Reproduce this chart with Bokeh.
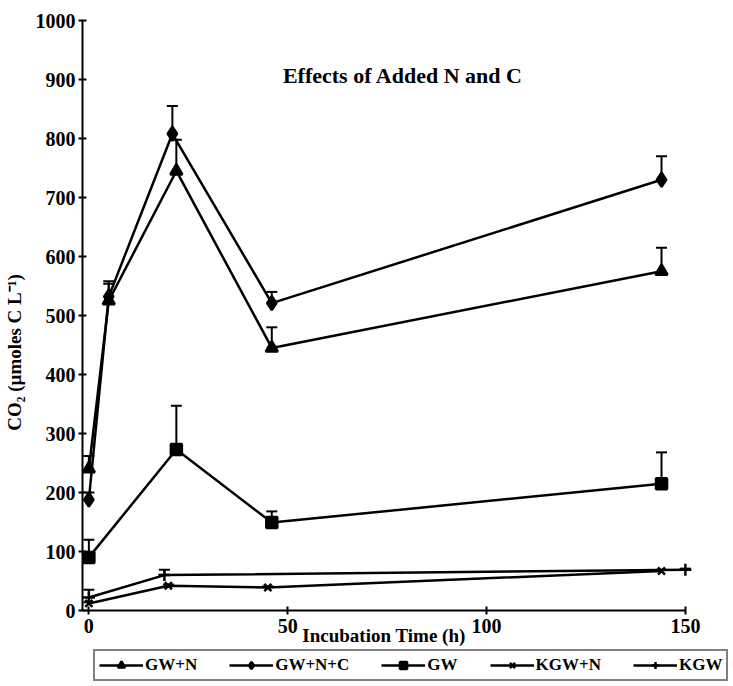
from bokeh.plotting import figure
from bokeh.models import Range1d, Legend, LegendItem, Whisker, TeeHead, ColumnDataSource, Label
from bokeh.embed import file_html
from bokeh.resources import INLINE

# ---- data ----
series_names = ["GW+N", "GW+N+C", "GW", "KGW+N", "KGW"]

gwn_time = [0, 5, 22, 46, 144]
gwn_co2 = [240, 525, 745, 445, 575]
gwn_upper = [262, 554, 798, 480, 615]

gwnc_time = [0, 5, 21, 46, 144]
gwnc_co2 = [188, 532, 808, 521, 730]
gwnc_upper = [200, 558, 855, 540, 770]

gw_time = [0, 22, 46, 144]
gw_co2 = [90, 273, 149, 215]
gw_upper = [120, 347, 168, 268]

kgwn_time = [0, 20, 45, 144]
kgwn_co2 = [12, 42, 39, 67]
kgwn_upper = [14, 44, 41, 69]

kgw_time = [0, 19, 150]
kgw_co2 = [22, 60, 69]
kgw_upper = [35, 69, 71]

x_ticks = [0, 50, 100, 150]
y_ticks = list(range(0, 1001, 100))

title_text = "Effects of Added N and C"
x_label = "Incubation Time (h)"
y_label = "CO\u2082 (\u00b5moles C L\u207b\u00b9)"

FONT = "Liberation Serif"

# frame reaches the bottom of the window so the axis texts and legend below y=0 stay visible
p = figure(frame_width=651, frame_height=668,
           x_range=Range1d(-1.6, 162.1), y_range=Range1d(-128.8, 1003.4),
           output_backend="svg", toolbar_location=None,
           min_border_left=82, min_border_top=18, min_border_right=0, min_border_bottom=0)
p.outline_line_color = None
p.xgrid.visible = False
p.ygrid.visible = False
p.background_fill_color = "white"

for ax in (p.xaxis[0], p.yaxis[0]):
    ax.axis_line_width = 2
    ax.axis_line_color = "black"
    ax.major_tick_line_width = 2
    ax.major_tick_in = 4
    ax.major_tick_out = 4
    ax.minor_tick_line_color = None
    ax.major_label_text_font = FONT
    ax.major_label_text_font_style = "bold"
    ax.major_label_text_font_size = "20px"
    ax.major_label_text_color = "black"
    ax.axis_label_text_font = FONT
    ax.axis_label_text_font_style = "bold"
    ax.axis_label_text_font_size = "19px"
    ax.axis_label_text_color = "black"

p.xaxis.fixed_location = 0
p.xaxis.bounds = (-1.6, 150)
p.yaxis.bounds = (0, 1000)
p.xaxis.ticker = x_ticks
p.yaxis.ticker = y_ticks
p.xaxis.axis_label = x_label
p.yaxis.axis_label = y_label
p.xaxis.major_label_standoff = 4
p.xaxis.axis_label_standoff = -11
p.yaxis.major_label_standoff = 3
p.yaxis.axis_label_standoff = 8

series = [
    (gwn_time, gwn_co2, gwn_upper, "triangle", 12),
    (gwnc_time, gwnc_co2, gwnc_upper, "diamond", 14),
    (gw_time, gw_co2, gw_upper, "square", 11),
    (kgwn_time, kgwn_co2, kgwn_upper, "x", 10),
    (kgw_time, kgw_co2, kgw_upper, "cross", 12),
]

items = []
for name, (t, v, u, marker, size) in zip(series_names, series):
    src = ColumnDataSource(dict(t=t, v=v, u=u))
    w = Whisker(source=src, base="t", lower="v", upper="u", dimension="height",
                line_color="black", line_width=2,
                upper_head=TeeHead(size=11, line_width=2, line_color="black"),
                lower_head=None)
    p.add_layout(w)
    lr = p.line("t", "v", source=src, line_color="black", line_width=2.5)
    sr = p.scatter("t", "v", source=src, marker=marker, size=size,
                   fill_color="black", line_color="black", line_width=2.5)
    items.append(LegendItem(label=name, renderers=[lr, sr]))

title = Label(x=79, y=907, text=title_text, text_align="center", text_baseline="middle",
              text_font=FONT, text_font_style="bold", text_font_size="22px", text_color="black")
p.add_layout(title)

legend = Legend(items=items, orientation="horizontal", location=(11, 5),
                label_text_font=FONT, label_text_font_style="bold", label_text_font_size="17px",
                label_text_color="black", glyph_width=44, glyph_height=18, label_standoff=2,
                spacing=32, padding=4, margin=0, border_line_color="black", border_line_width=2,
                label_height=18, background_fill_color="white", background_fill_alpha=1)
p.add_layout(legend)

open("out.html", "w").write(file_html(p, INLINE))
